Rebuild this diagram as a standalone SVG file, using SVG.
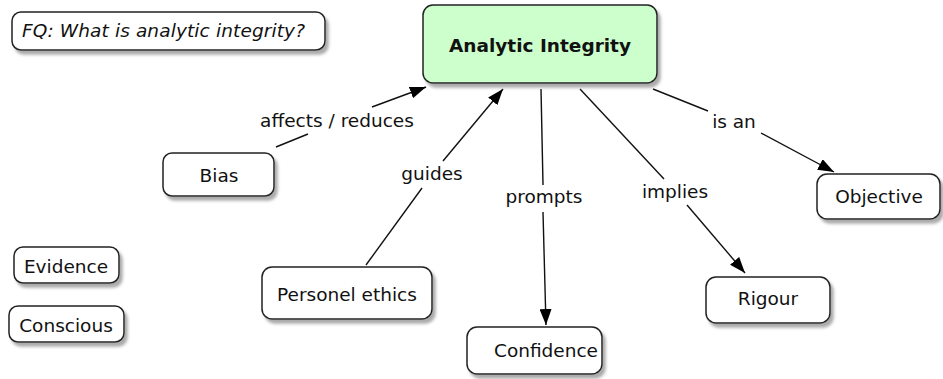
<svg xmlns="http://www.w3.org/2000/svg" width="943" height="379" viewBox="0 0 943 379">
<defs>
<filter id="sh" x="-10%" y="-20%" width="130%" height="160%">
<feDropShadow dx="3" dy="4" stdDeviation="1.8" flood-color="#888" flood-opacity="0.7"/>
</filter>
<marker id="arr" viewBox="0 0 16 12" refX="16" refY="6" markerWidth="16" markerHeight="12" markerUnits="userSpaceOnUse" orient="auto">
<path d="M0,0 L16,6 L0,12 Z" fill="#000"/>
</marker>
<style>
.box{fill:#fff;stroke:#222;stroke-width:1.5;filter:url(#sh)}
.main{fill:#ccffcc}
.t{font-family:"DejaVu Sans","Verdana",sans-serif;font-size:18.5px;fill:#111;text-anchor:middle}
.b{font-weight:bold;font-size:18.5px}
.i{font-style:italic;text-anchor:start}
.c{stroke:#111;stroke-width:1.4;fill:none}
</style>
</defs>
<g id="connectors">
<line class="c" x1="276" y1="147" x2="308" y2="134"/>
<line class="c" x1="372" y1="107" x2="426" y2="87" marker-end="url(#arr)"/>
<line class="c" x1="366" y1="265" x2="422" y2="188"/>
<line class="c" x1="443" y1="161" x2="503" y2="89" marker-end="url(#arr)"/>
<line class="c" x1="541" y1="89" x2="543" y2="185"/>
<line class="c" x1="543" y1="212" x2="546" y2="325" marker-end="url(#arr)"/>
<line class="c" x1="580" y1="89" x2="664" y2="179"/>
<line class="c" x1="687" y1="205" x2="745" y2="273" marker-end="url(#arr)"/>
<line class="c" x1="653" y1="89" x2="708" y2="111"/>
<line class="c" x1="761" y1="133" x2="834" y2="172" marker-end="url(#arr)"/>
<text class="t" x="337" y="127">affects / reduces</text>
<text class="t" x="432" y="180">guides</text>
<text class="t" x="544" y="203">prompts</text>
<text class="t" x="675" y="198">implies</text>
<text class="t" x="734" y="128">is an</text>
</g>
<g id="fq">
<rect class="box" x="12" y="12" width="313" height="38" rx="9"/>
<text class="t i" x="22" y="37" textLength="283">FQ: What is analytic integrity?</text>
</g>
<g id="analytic-integrity">
<rect class="box main" x="423" y="5" width="234" height="78" rx="10"/>
<text class="t b" x="540" y="52">Analytic Integrity</text>
</g>
<g id="bias">
<rect class="box" x="163" y="153" width="111" height="43" rx="9"/>
<text class="t" x="219" y="182">Bias</text>
</g>
<g id="evidence">
<rect class="box" x="14" y="247" width="105" height="36" rx="9"/>
<text class="t" x="66" y="273">Evidence</text>
</g>
<g id="conscious">
<rect class="box" x="9" y="306" width="115" height="36" rx="9"/>
<text class="t" x="66" y="332">Conscious</text>
</g>
<g id="personel-ethics">
<rect class="box" x="262" y="267" width="170" height="52" rx="10"/>
<text class="t" x="347" y="301">Personel ethics</text>
</g>
<g id="confidence">
<rect class="box" x="467" y="327" width="135" height="47" rx="10"/>
<text class="t" x="546" y="357">Confidence</text>
</g>
<g id="rigour">
<rect class="box" x="706" y="277" width="124" height="46" rx="10"/>
<text class="t" x="768" y="305">Rigour</text>
</g>
<g id="objective">
<rect class="box" x="817" y="174" width="123" height="45" rx="10"/>
<text class="t" x="879" y="203">Objective</text>
</g>
</svg>
